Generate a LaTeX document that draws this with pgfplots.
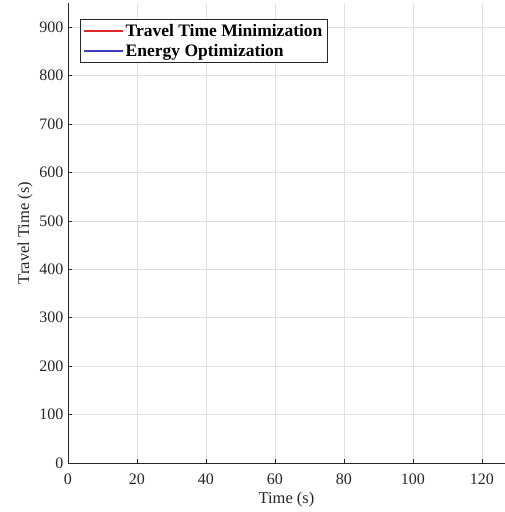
\documentclass[border=0pt]{standalone}
\usepackage{pgfplots}
\pgfplotsset{compat=1.18}
\usepackage{fontspec}
\setmainfont{Liberation Serif}
\definecolor{gridc}{RGB}{224,224,230}
\definecolor{ttm}{RGB}{220,40,40}
\definecolor{eo}{RGB}{60,60,200}
\begin{document}
\begin{tikzpicture}
\begin{axis}[
  at={(0,0)}, anchor=south west,
  scale only axis, width=437pt, height=460pt,
  xmin=0, xmax=126.7, ymin=0, ymax=950,
  axis lines=left, axis line style={black!85, line width=0.8pt, -},
  xtick={0,20,...,120}, ytick={0,100,...,900},
  tick align=inside, major tick length=4pt,
  tick style={black!85, line width=0.7pt},
  grid=major, major grid style={gridc, line width=0.6pt},
  /pgf/number format/assume math mode=true,
  ticklabel style={font=\fontsize{16}{17}\selectfont, black!85},
  xticklabel style={yshift=-7pt},
  yticklabel style={xshift=-1pt},
  xlabel={Time (s)}, ylabel={Travel Time (s)},
  label style={font=\fontsize{16.5}{17}\selectfont, black!85},
  xlabel style={yshift=-1pt},
  ylabel style={yshift=0pt},
  legend style={at={(0.0275,0.965)}, anchor=north west, draw=black!85, line width=0.7pt,
    font=\fontsize{17.5}{18}\selectfont\bfseries, inner xsep=2.5pt, inner ysep=3pt, row sep=2pt,
    /tikz/every even column/.append style={column sep=2pt}},
  legend cell align=left,
  legend image post style={xscale=2.3},
]
\addlegendimage{draw=ttm, line width=1.6pt, yshift=0.5pt}
\addlegendentry{Travel Time Minimization}
\addlegendimage{draw=eo, line width=1.6pt}
\addlegendentry{Energy Optimization}
\end{axis}
\pgfresetboundingbox
\path[use as bounding box] (-68pt,-49pt) rectangle (437pt,463pt);
\end{tikzpicture}
\end{document}
